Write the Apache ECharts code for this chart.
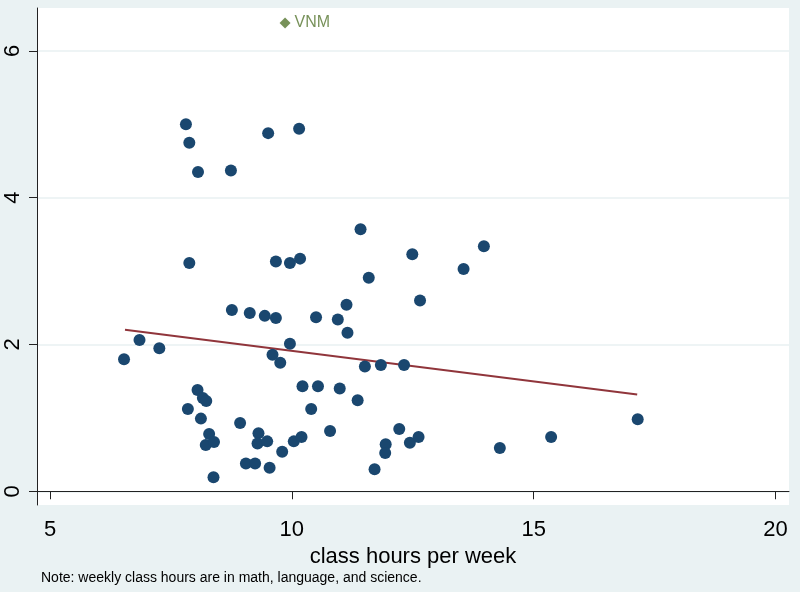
<!DOCTYPE html>
<html>
<head>
<meta charset="utf-8">
<script src="https://cdn.jsdelivr.net/npm/echarts@6/dist/echarts.min.js"></script>
<style>
html,body{margin:0;padding:0;background:#EAF2F3;}
#chart{width:800px;height:592px;}
</style>
</head>
<body>
<div id="chart"></div>
<script>
// Weekly class hours (x) and outcome (y) per country
const classHours = [
  7.81, 7.88, 8.06, 8.74, 9.51, 10.15, 11.42, 13.97, 13.55, 12.49,
  7.88, 9.67, 9.96, 10.17, 11.59, 12.65, 8.76, 9.13, 9.44, 9.67,
  10.50, 10.95, 11.13, 11.15, 6.53, 6.85, 7.26, 9.96, 9.60, 9.76,
  11.51, 11.84, 12.32, 8.05, 8.16, 8.23, 7.85, 8.12, 8.93, 8.29,
  8.22, 8.39, 9.31, 9.29, 9.49, 9.05, 9.24, 9.54, 8.38, 10.22,
  10.54, 10.99, 11.36, 10.40, 10.79, 12.22, 9.80, 10.04, 10.20, 11.94,
  11.93, 12.44, 12.62, 11.71, 17.15, 15.36, 14.30
];
const outcomeValues = [
  5.00, 4.75, 4.35, 4.37, 4.88, 4.94, 3.57, 3.34, 3.03, 3.23,
  3.11, 3.13, 3.11, 3.17, 2.91, 2.60, 2.47, 2.43, 2.39, 2.36,
  2.37, 2.34, 2.54, 2.16, 1.80, 2.06, 1.95, 2.01, 1.86, 1.75,
  1.70, 1.72, 1.72, 1.38, 1.27, 1.23, 1.12, 0.99, 0.93, 0.78,
  0.63, 0.67, 0.79, 0.65, 0.68, 0.38, 0.38, 0.32, 0.19, 1.43,
  1.43, 1.40, 1.24, 1.12, 0.82, 0.85, 0.54, 0.68, 0.74, 0.64,
  0.52, 0.66, 0.74, 0.30, 0.98, 0.74, 0.59
];
// Labelled outlier
const outlierNames = ['VNM'];
const outlierHours = [9.86];
const outlierValues = [6.38];
// Linear fit end points
const fitHours = [6.55, 17.14];
const fitValues = [2.20, 1.32];
// Tick labels
const xTicks = [5, 10, 15, 20];
const yTicks = [0, 2, 4, 6];

const navy = '#1A476F', maroon = '#90353B', green = '#55752F';
const font = '"Liberation Sans", Arial, Helvetica, sans-serif';

const chart = echarts.init(document.getElementById('chart'), null, {renderer: 'canvas'});
chart.setOption({
  backgroundColor: '#EAF2F3',
  animation: false,
  textStyle: {fontFamily: font},
  grid: {left: 37, right: 11, top: 8, bottom: 87, show: true, backgroundColor: '#ffffff', borderWidth: 0},
  xAxis: {
    type: 'value', min: 4.731, max: 20.278,
    axisLine: {show: true, lineStyle: {color: '#222', width: 1}},
    axisTick: {show: true, customValues: xTicks, length: 8, lineStyle: {color: '#222', width: 1}},
    axisLabel: {customValues: xTicks, fontSize: 22, margin: 14, color: '#000', fontFamily: font},
    splitLine: {show: false},
    name: 'class hours per week', nameLocation: 'middle', nameGap: 37,
    nameTextStyle: {fontSize: 22, color: '#000', fontFamily: font}
  },
  yAxis: {
    type: 'value', min: -0.187, max: 6.585,
    axisLine: {show: true, lineStyle: {color: '#222', width: 1}},
    axisTick: {show: true, customValues: yTicks, length: 8, lineStyle: {color: '#222', width: 1}},
    axisLabel: {customValues: yTicks, fontSize: 22, margin: 13, rotate: 90, color: '#000', fontFamily: font},
    splitLine: {show: true, lineStyle: {color: '#E8F0F2', width: 1.5}}
  },
  graphic: [{
    type: 'text', left: 41, top: 571,
    style: {text: 'Note: weekly class hours are in math, language, and science.', fontSize: 14, fill: '#000', fontFamily: font}
  }],
  series: [
    {
      type: 'line', z: 2, showSymbol: false, silent: true,
      data: fitHours.map((x, i) => [x, fitValues[i]]),
      lineStyle: {color: maroon, width: 2}
    },
    {
      type: 'scatter', z: 3, symbol: 'circle', symbolSize: 12,
      data: classHours.map((x, i) => [x, outcomeValues[i]]),
      itemStyle: {color: navy, opacity: 1}
    },
    {
      type: 'scatter', z: 3, symbol: 'diamond', symbolSize: 11,
      data: outlierHours.map((x, i) => ({value: [x, outlierValues[i]], name: outlierNames[i]})),
      itemStyle: {color: green},
      label: {show: true, position: 'right', distance: 4, formatter: p => p.name, fontSize: 16, color: green, fontFamily: font}
    }
  ]
});
</script>
</body>
</html>
